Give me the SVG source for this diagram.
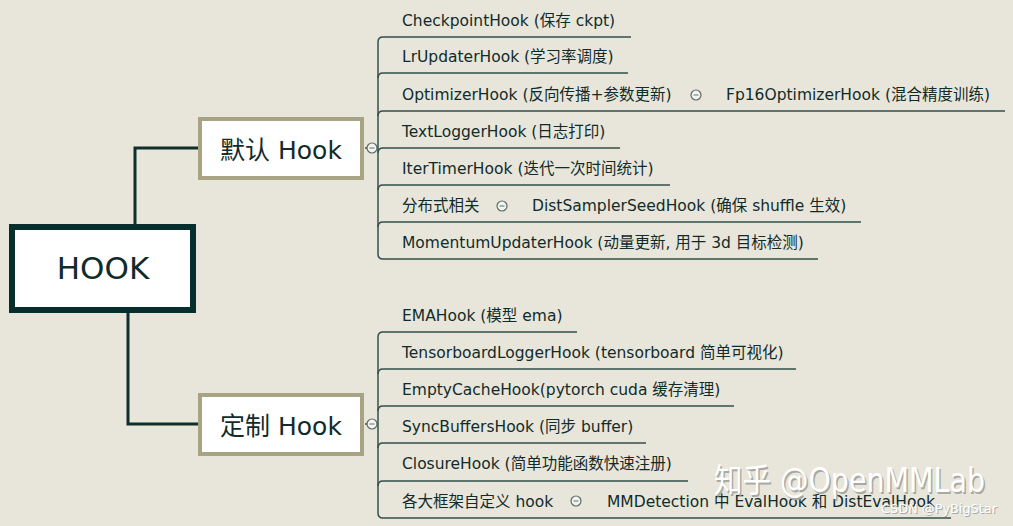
<svg xmlns="http://www.w3.org/2000/svg" width="1013" height="526" viewBox="0 0 1013 526">
<style>
.bg{fill:#e8e6da}
.root{fill:#ffffff;stroke:#062e2c;stroke-width:6}
.main{fill:#ffffff;stroke:#a8a383;stroke-width:4}
.t{font-family:"DejaVu Sans","Noto Sans CJK SC",sans-serif;fill:#112b2b}
.item{font-size:15.5px}
.big{font-size:25px}
.rootT{font-size:31px}
.conn{fill:none;stroke:#0e2e2c;stroke-width:3}
.br{fill:none;stroke:#34504c;stroke-width:1.5}
.knob{fill:#f4f4ef;stroke:#5b6b68;stroke-width:1.2}
.minus{stroke:#7a8785;stroke-width:1.2}
.wm{font-family:"DejaVu Sans","Noto Sans CJK SC",sans-serif;fill:#ffffff}
.wms{font-family:"DejaVu Sans","Noto Sans CJK SC",sans-serif;fill:#a9a9a2}
</style>
<rect class="bg" x="0" y="0" width="1013" height="526"/>
<defs>
<g id="knob"><circle class="knob" cx="0" cy="0" r="5"/><line class="minus" x1="-2.5" y1="0" x2="2.5" y2="0"/></g>
</defs>
<g id="connectors">
<path class="conn" d="M135 226 V148 H198"/>
<path class="conn" d="M128 311 V424 H198"/>
<path class="br" d="M378 42 V254"/>
<path class="br" d="M378 42 Q378 37 383 37 H631"/>
<path class="br" d="M378 78 Q378 73 383 73 H628"/>
<path class="br" d="M378 116 Q378 111 383 111 H1005"/>
<path class="br" d="M378 153 Q378 148 383 148 H620"/>
<path class="br" d="M378 190 Q378 185 383 185 H670"/>
<path class="br" d="M378 227 Q378 222 383 222 H861"/>
<path class="br" d="M378 254 Q378 259 383 259 H818"/>
<path class="br" d="M365 148 H378"/>
<path class="br" d="M378 337 V513"/>
<path class="br" d="M378 337 Q378 332 383 332 H577"/>
<path class="br" d="M378 374 Q378 369 383 369 H796"/>
<path class="br" d="M378 411 Q378 406 383 406 H734"/>
<path class="br" d="M378 448 Q378 443 383 443 H646"/>
<path class="br" d="M378 486 Q378 481 383 481 H688"/>
<path class="br" d="M378 513 Q378 518 383 518 H951"/>
<path class="br" d="M365 424 H378"/>
</g>
<g id="node-hook">
<rect class="root" x="12" y="227" width="181" height="83"/>
<text class="t rootT" x="103" y="279" text-anchor="middle">HOOK</text>
</g>
<g id="node-default">
<rect class="main" x="200" y="119" width="162" height="59"/>
<text class="t big" x="281" y="159" text-anchor="middle">默认 Hook</text>
<use href="#knob" x="372" y="148"/>
</g>
<g id="node-custom">
<rect class="main" x="200" y="395" width="162" height="59"/>
<text class="t big" x="281" y="435" text-anchor="middle">定制 Hook</text>
<use href="#knob" x="372" y="424"/>
</g>
<g id="default-items">
<text class="t item" x="402" y="26">CheckpointHook (保存 ckpt)</text>
<text class="t item" x="402" y="62">LrUpdaterHook (学习率调度)</text>
<text class="t item" x="402" y="100">OptimizerHook (反向传播+参数更新)</text>
<use href="#knob" x="696" y="95"/>
<text class="t item" x="726" y="100">Fp16OptimizerHook (混合精度训练)</text>
<text class="t item" x="402" y="137">TextLoggerHook (日志打印)</text>
<text class="t item" x="402" y="174">IterTimerHook (迭代一次时间统计)</text>
<text class="t item" x="402" y="211">分布式相关</text>
<use href="#knob" x="502" y="206"/>
<text class="t item" x="532" y="211">DistSamplerSeedHook (确保 shuffle 生效)</text>
<text class="t item" x="402" y="248">MomentumUpdaterHook (动量更新, 用于 3d 目标检测)</text>
</g>
<g id="custom-items">
<text class="t item" x="402" y="321">EMAHook (模型 ema)</text>
<text class="t item" x="402" y="358">TensorboardLoggerHook (tensorboard 简单可视化)</text>
<text class="t item" x="402" y="395">EmptyCacheHook(pytorch cuda 缓存清理)</text>
<text class="t item" x="402" y="432">SyncBuffersHook (同步 buffer)</text>
<text class="t item" x="402" y="469">ClosureHook (简单功能函数快速注册)</text>
<text class="t item" x="402" y="507">各大框架自定义 hook</text>
<use href="#knob" x="576" y="501"/>
<text class="t item" x="607" y="507">MMDetection 中 EvalHook 和 DistEvalHook</text>
</g>
<g id="watermark">
<text class="wms" x="715.5" y="493.5" font-size="33" textLength="271" lengthAdjust="spacingAndGlyphs">知乎 @OpenMMLab</text>
<text class="wm" x="714" y="492" font-size="33" textLength="271" lengthAdjust="spacingAndGlyphs">知乎 @OpenMMLab</text>
<text class="wms" x="882" y="514" font-size="13" textLength="116" lengthAdjust="spacingAndGlyphs">CSDN @PyBigStar</text>
<text class="wm" x="881" y="513" font-size="13" textLength="116" lengthAdjust="spacingAndGlyphs">CSDN @PyBigStar</text>
</g>
</svg>
